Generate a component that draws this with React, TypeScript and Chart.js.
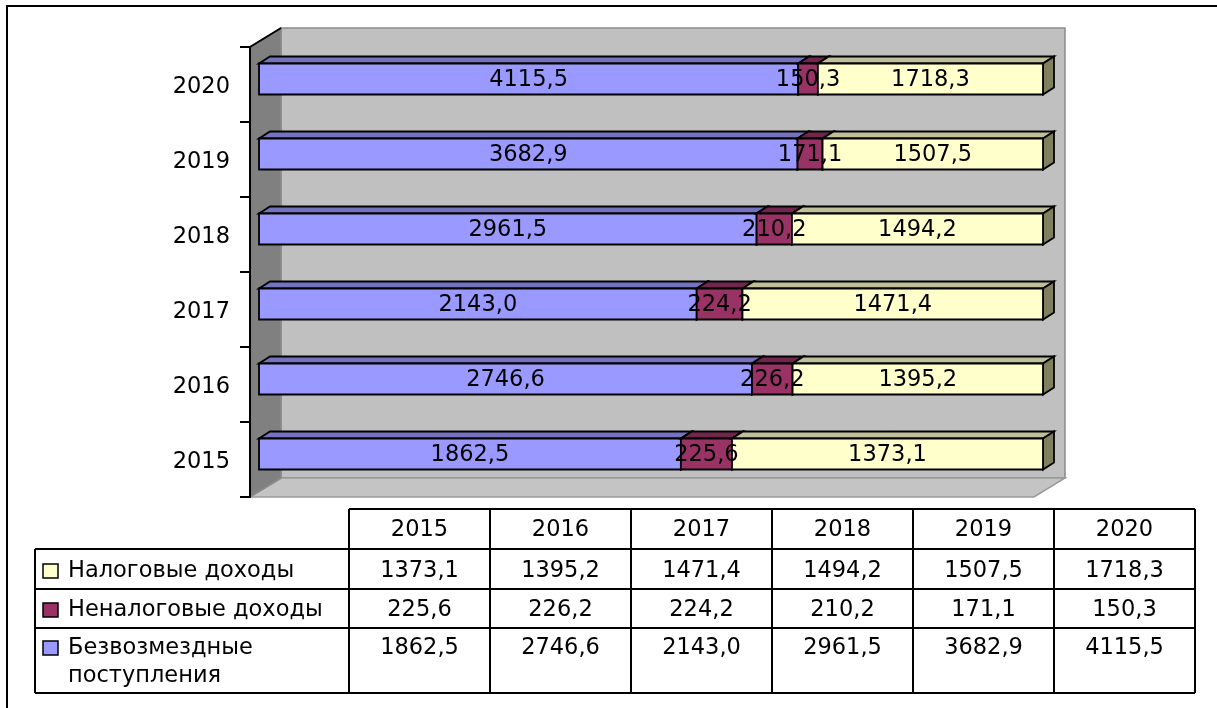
import React, { useEffect, useRef } from "react";
import { Chart, registerables } from "chart.js";

Chart.register(...registerables);

const years = ["2015", "2016", "2017", "2018", "2019", "2020"];
const grantsValues = [1862.5, 2746.6, 2143.0, 2961.5, 3682.9, 4115.5];
const nonTaxValues = [225.6, 226.2, 224.2, 210.2, 171.1, 150.3];
const taxValues = [1373.1, 1395.2, 1471.4, 1494.2, 1507.5, 1718.3];
const seriesNames = ["Безвозмездные поступления", "Неналоговые доходы", "Налоговые доходы"];
const tableLabels = [["Налоговые доходы"], ["Неналоговые доходы"], ["Безвозмездные", "поступления"]];

const FONT = "DejaVu Sans";
const FSIZE = 22.5;

const seriesValues = [grantsValues, nonTaxValues, taxValues];
const frontColors = ["#9999FF", "#993366", "#FFFFCC"];
const topColors = ["#7373BF", "#73264D", "#BFBF99"];
const sideColors = ["#5C5C99", "#5C1F3D", "#80805F"];

const fmt = (v: number) => v.toFixed(1).replace(".", ",");

const totals = years.map((_, i) => seriesValues.reduce((s, arr) => s + arr[i], 0));

const WALL_DX = 31;
const WALL_DY = -19;
const FRONT_DX = 9;
const FRONT_DY = -5.5;
const BACK_DX = 20;
const BACK_DY = -12.5;

const wallsPlugin = {
  id: "walls3d",
  beforeDraw(chart: any) {
    const { ctx, chartArea } = chart;
    const { left, top, right, bottom } = chartArea;
    ctx.save();
    // back wall
    ctx.fillStyle = "#C0C0C0";
    ctx.fillRect(left + WALL_DX, top + WALL_DY, right - left, bottom - top);
    ctx.strokeStyle = "#8A8A8A";
    ctx.lineWidth = 1.5;
    ctx.strokeRect(left + WALL_DX, top + WALL_DY, right - left, bottom - top);
    // floor
    ctx.beginPath();
    ctx.moveTo(left, bottom);
    ctx.lineTo(left + WALL_DX, bottom + WALL_DY);
    ctx.lineTo(right + WALL_DX, bottom + WALL_DY);
    ctx.lineTo(right, bottom);
    ctx.closePath();
    ctx.fillStyle = "#C4C4C4";
    ctx.fill();
    ctx.strokeStyle = "#9A9A9A";
    ctx.stroke();
    // side wall
    ctx.beginPath();
    ctx.moveTo(left, top);
    ctx.lineTo(left + WALL_DX, top + WALL_DY);
    ctx.lineTo(left + WALL_DX, bottom + WALL_DY);
    ctx.lineTo(left, bottom);
    ctx.closePath();
    ctx.fillStyle = "#808080";
    ctx.fill();
    ctx.strokeStyle = "#8A8A8A";
    ctx.stroke();
    // top edge of side wall
    ctx.beginPath();
    ctx.moveTo(left, top);
    ctx.lineTo(left + WALL_DX, top + WALL_DY);
    ctx.strokeStyle = "#000";
    ctx.lineWidth = 2;
    ctx.stroke();
    ctx.restore();
  },
};

const poly = (ctx: any, pts: number[][], fill: string) => {
  ctx.beginPath();
  ctx.moveTo(pts[0][0], pts[0][1]);
  for (let k = 1; k < pts.length; k++) ctx.lineTo(pts[k][0], pts[k][1]);
  ctx.closePath();
  ctx.fillStyle = fill;
  ctx.fill();
  ctx.stroke();
};

const barsPlugin = {
  id: "bars3d",
  afterDatasetsDraw(chart: any) {
    const { ctx } = chart;
    ctx.save();
    ctx.strokeStyle = "#000";
    ctx.lineWidth = 1.8;
    ctx.lineJoin = "miter";
    const nDs = chart.data.datasets.length;
    const labelsToDraw: any[] = [];
    for (let i = 0; i < years.length; i++) {
      for (let d = 0; d < nDs; d++) {
        const el = chart.getDatasetMeta(d).data[i];
        const p = el.getProps(["x", "y", "base", "height"], true);
        const l = Math.min(p.x, p.base);
        const r = Math.max(p.x, p.base);
        const t = p.y - p.height / 2;
        const b = p.y + p.height / 2;
        // top face
        poly(ctx, [
          [l + FRONT_DX, t + FRONT_DY],
          [l + BACK_DX, t + BACK_DY],
          [r + BACK_DX, t + BACK_DY],
          [r + FRONT_DX, t + FRONT_DY],
        ], topColors[d]);
        // right side
        poly(ctx, [
          [r + FRONT_DX, t + FRONT_DY],
          [r + BACK_DX, t + BACK_DY],
          [r + BACK_DX, b + BACK_DY],
          [r + FRONT_DX, b + FRONT_DY],
        ], sideColors[d]);
        // front
        poly(ctx, [
          [l + FRONT_DX, t + FRONT_DY],
          [r + FRONT_DX, t + FRONT_DY],
          [r + FRONT_DX, b + FRONT_DY],
          [l + FRONT_DX, b + FRONT_DY],
        ], frontColors[d]);
        labelsToDraw.push({ x: (l + r) / 2 + FRONT_DX, y: p.y + FRONT_DY, text: fmt(seriesValues[d][i]) });
      }
    }
    ctx.fillStyle = "#000";
    ctx.font = `${FSIZE}px "${FONT}"`;
    ctx.textAlign = "center";
    ctx.textBaseline = "middle";
    labelsToDraw.forEach((lb) => ctx.fillText(lb.text, lb.x, lb.y + 1));
    ctx.restore();
  },
};

const TABLE_LEFT = 35;
const TABLE_COL0 = 349;
const TABLE_COLW = 141;
const TABLE_TOP = 509;
const TABLE_ROWS = [549, 589, 628, 693];

const tablePlugin = {
  id: "dataTable",
  afterDraw(chart: any) {
    const { ctx } = chart;
    ctx.save();
    const right = TABLE_COL0 + TABLE_COLW * years.length;
    ctx.strokeStyle = "#000";
    ctx.lineWidth = 2;
    ctx.beginPath();
    ctx.moveTo(TABLE_COL0, TABLE_TOP);
    ctx.lineTo(right, TABLE_TOP);
    TABLE_ROWS.forEach((y) => {
      ctx.moveTo(TABLE_LEFT, y);
      ctx.lineTo(right, y);
    });
    ctx.moveTo(TABLE_LEFT, TABLE_ROWS[0]);
    ctx.lineTo(TABLE_LEFT, TABLE_ROWS[TABLE_ROWS.length - 1]);
    for (let k = 0; k <= years.length; k++) {
      const x = TABLE_COL0 + k * TABLE_COLW;
      ctx.moveTo(x, TABLE_TOP);
      ctx.lineTo(x, TABLE_ROWS[TABLE_ROWS.length - 1]);
    }
    ctx.stroke();

    ctx.fillStyle = "#000";
    ctx.font = `${FSIZE}px "${FONT}"`;
    ctx.textBaseline = "middle";
    ctx.textAlign = "center";
    years.forEach((yr, k) => {
      ctx.fillText(yr, TABLE_COL0 + k * TABLE_COLW + TABLE_COLW / 2, 530);
    });
    const rowOrder = [2, 1, 0];
    const rowTextY = [571, 610, 648];
    rowOrder.forEach((d, r) => {
      const cy = rowTextY[r];
      ctx.textAlign = "center";
      ctx.fillStyle = "#000";
      seriesValues[d].forEach((v, k) => {
        ctx.fillText(fmt(v), TABLE_COL0 + k * TABLE_COLW + TABLE_COLW / 2, cy);
      });
      // legend key
      ctx.fillStyle = frontColors[d];
      ctx.fillRect(43, cy - 7, 15, 14);
      ctx.lineWidth = 1.5;
      ctx.strokeRect(43, cy - 7, 15, 14);
      ctx.fillStyle = "#000";
      ctx.textAlign = "left";
      tableLabels[r].forEach((line, li) => {
        ctx.fillText(line, 68, cy + li * 28);
      });
    });

    // outer frame
    ctx.lineWidth = 2;
    ctx.beginPath();
    ctx.moveTo(7, 708);
    ctx.lineTo(7, 6);
    ctx.lineTo(1217, 6);
    ctx.stroke();
    ctx.restore();
  },
};

export default function App() {
  const canvasRef = useRef<HTMLCanvasElement | null>(null);

  useEffect(() => {
    if (!canvasRef.current) return;
    const datasets = seriesNames.map((name, d) => ({
      label: name,
      data: seriesValues[d].map((v, i) => (v / totals[i]) * 100),
      backgroundColor: "rgba(0,0,0,0)",
      borderWidth: 0,
      barThickness: 31,
    }));
    const chart = new Chart(canvasRef.current, {
      type: "bar",
      data: { labels: years, datasets },
      options: {
        indexAxis: "y",
        animation: false,
        responsive: false,
        events: [],
        layout: { padding: { left: 0, top: 47, right: 183, bottom: 211 } },
        plugins: {
          legend: { display: false },
          tooltip: { enabled: false },
          title: { display: false },
        },
        scales: {
          x: { stacked: true, min: 0, max: 100, display: false },
          y: {
            stacked: true,
            reverse: true,
            afterFit: (scale: any) => {
              scale.width = 250;
            },
            grid: {
              display: true,
              drawOnChartArea: false,
              drawTicks: true,
              tickLength: 10,
              color: "#000",
              lineWidth: 2,
              offset: true,
            },
            border: { display: true, color: "#000", width: 2 },
            ticks: {
              color: "#000",
              padding: 10,
              labelOffset: 2.5,
              font: { family: FONT, size: FSIZE },
            },
          },
        },
      },
      plugins: [wallsPlugin, barsPlugin, tablePlugin],
    } as any);
    return () => chart.destroy();
  }, []);

  return (
    <div style={{ position: "absolute", left: 0, top: 0, width: 1217, height: 708, background: "#fff" }}>
      <canvas ref={canvasRef} width={1217} height={708} style={{ display: "block" }} />
    </div>
  );
}
